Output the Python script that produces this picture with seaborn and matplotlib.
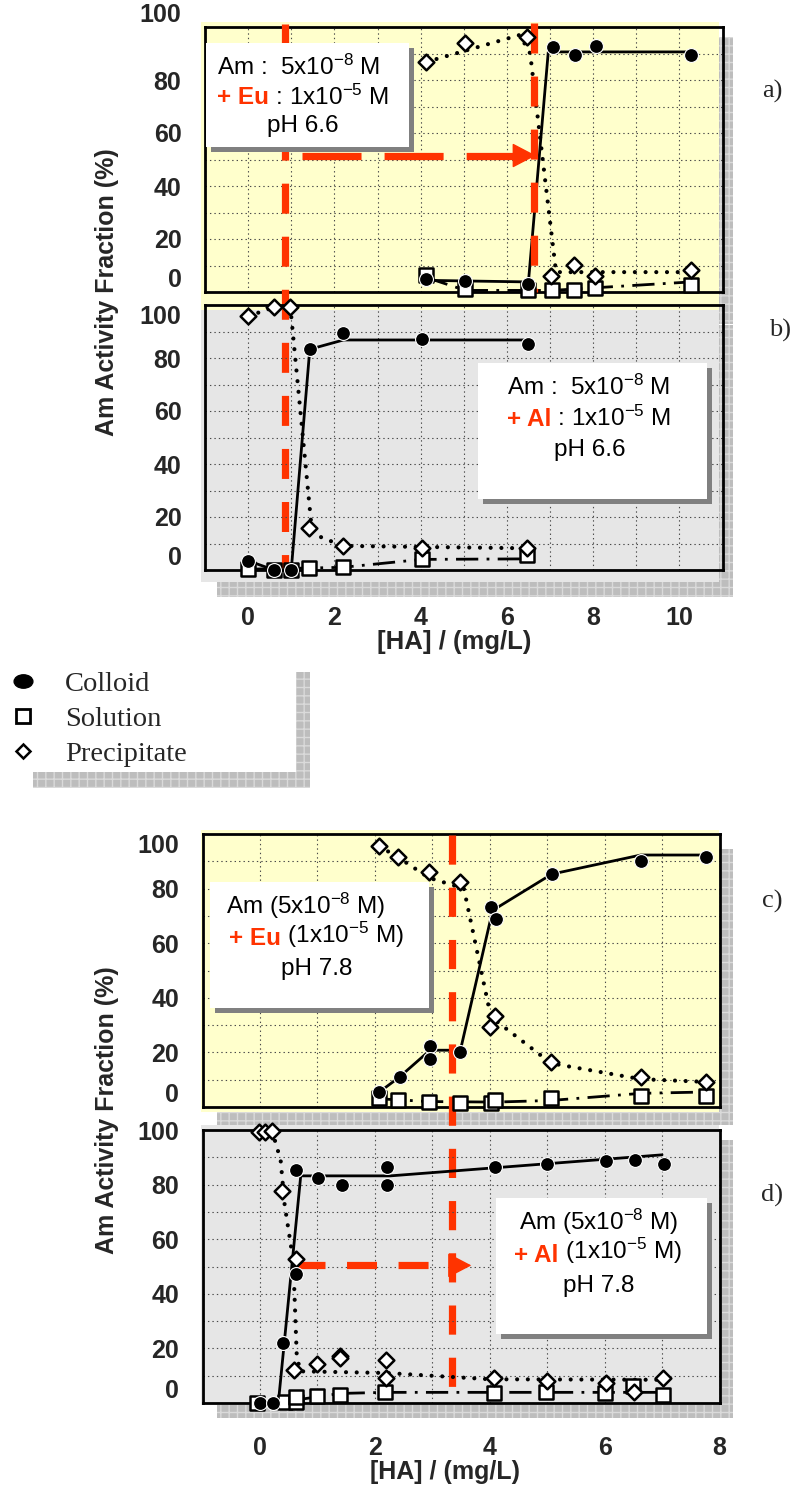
import matplotlib
matplotlib.use("Agg")
import matplotlib.pyplot as plt
from matplotlib.patches import Rectangle
from matplotlib.lines import Line2D
from matplotlib.path import Path
from matplotlib.markers import MarkerStyle
from matplotlib.text import Annotation
import seaborn as sns

# ---------------------------------------------------------------------------
# Am activity fraction (%) versus humic acid concentration [HA] (mg/L)
# points = measured values, *_LX / *_LY = trend curve drawn through them
# ---------------------------------------------------------------------------

# a) Am 5e-8 M + Eu 1e-5 M, pH 6.6
A_COL_X = [4.13, 5.04, 6.50, 7.06, 7.57, 8.06, 10.27]
A_COL_Y = [5.0, 4.2, 2.9, 92.5, 89.3, 92.7, 89.3]
A_COL_LX = [4.13, 6.50, 6.96, 10.27]
A_COL_LY = [4.4, 3.8, 90.6, 90.6]
A_SOL_X = [4.13, 5.04, 6.50, 7.04, 7.56, 8.04, 10.27]
A_SOL_Y = [6.5, 1.3, 0.9, 0.9, 0.9, 1.6, 2.5]
A_SOL_LX = [4.13, 5.04, 7.04, 10.27]
A_SOL_LY = [5.5, 0.6, 0.6, 3.8]
A_PRE_X = [4.13, 5.04, 6.46, 7.03, 7.56, 8.04, 10.27]
A_PRE_Y = [86.8, 94.1, 96.2, 5.9, 10.1, 5.9, 8.2]
A_PRE_LX = [4.13, 6.30, 6.54, 7.14, 10.27]
A_PRE_LY = [86.8, 97.0, 90.0, 7.5, 7.5]

# b) Am 5e-8 M + Al 1e-5 M, pH 6.6
B_COL_X = [0.0, 0.60, 1.00, 1.43, 2.21, 4.03, 6.48]
B_COL_Y = [3.5, 0.0, 0.0, 83.3, 89.3, 87.2, 85.3]
B_COL_LX = [0.0, 0.60, 1.00, 1.43, 2.21, 6.48]
B_COL_LY = [3.5, 0.0, 0.0, 83.3, 86.8, 86.8]
B_SOL_X = [0.0, 0.60, 1.00, 1.42, 2.19, 4.03, 6.46]
B_SOL_Y = [0.3, 0.0, 0.0, 0.6, 1.0, 4.0, 5.7]
B_SOL_LX = [0.0, 2.19, 4.03, 6.46]
B_SOL_LY = [0.3, 1.0, 4.0, 4.2]
B_PRE_X = [0.0, 0.60, 0.98, 1.42, 2.19, 4.03, 6.46]
B_PRE_Y = [95.8, 99.1, 99.1, 15.7, 9.1, 8.2, 8.2]
B_PRE_LX = [0.0, 0.60, 0.98, 1.46, 1.60, 2.19, 6.46]
B_PRE_LY = [95.8, 99.1, 99.1, 18.0, 13.0, 9.1, 8.2]

# c) Am 5e-8 M + Eu 1e-5 M, pH 7.8
C_COL_X = [2.08, 2.43, 2.96, 2.96, 3.49, 4.02, 4.11, 5.08, 6.63, 7.77]
C_COL_Y = [5.5, 11.0, 22.2, 17.7, 20.2, 73.3, 68.8, 85.3, 90.2, 91.4]
C_COL_LX = [2.08, 2.43, 2.96, 3.49, 4.05, 5.08, 6.63, 7.77]
C_COL_LY = [5.5, 11.0, 20.8, 20.8, 72.0, 85.3, 92.3, 92.3]
C_SOL_X = [2.08, 2.41, 2.94, 3.49, 4.02, 4.10, 5.07, 6.63, 7.76]
C_SOL_Y = [3.4, 2.7, 1.8, 1.5, 1.5, 2.7, 3.4, 3.9, 3.9]
C_SOL_LX = [2.08, 2.94, 4.10, 5.07, 6.63, 7.76]
C_SOL_LY = [3.0, 2.0, 1.8, 2.4, 5.0, 5.5]
C_PRE_X = [2.07, 2.41, 2.94, 3.49, 4.09, 4.01, 5.07, 6.63, 7.77]
C_PRE_Y = [95.6, 91.4, 85.9, 82.5, 33.3, 29.3, 16.5, 11.0, 9.2]
C_PRE_LX = [2.07, 2.41, 2.94, 3.55, 4.02, 5.07, 6.63, 7.77]
C_PRE_LY = [95.6, 91.4, 84.0, 80.0, 33.0, 16.0, 10.2, 9.2]

# d) Am 5e-8 M + Al 1e-5 M, pH 7.8
D_COL_X = [0.0, 0.22, 0.41, 0.63, 0.63, 1.01, 1.43, 2.21, 2.21, 4.10, 5.00, 6.03, 6.53, 7.04]
D_COL_Y = [0.0, 0.0, 22.0, 85.4, 47.3, 82.3, 79.9, 86.6, 79.9, 86.6, 87.6, 88.7, 89.0, 87.6]
D_COL_LX = [0.0, 0.32, 0.71, 2.27, 7.00]
D_COL_LY = [0.0, 0.0, 83.2, 83.2, 90.9]
D_SOL_X = [-0.05, 0.43, 0.63, 0.63, 0.99, 1.40, 2.18, 4.08, 4.98, 6.00, 6.50, 7.02]
D_SOL_Y = [0.0, 0.2, 0.2, 2.2, 2.7, 3.0, 3.9, 3.7, 3.9, 3.7, 6.1, 3.0]
D_SOL_LX = [0.0, 0.43, 1.40, 2.18, 7.02]
D_SOL_LY = [0.0, 0.5, 3.5, 3.9, 3.9]
D_PRE_X = [-0.01, 0.09, 0.21, 0.39, 0.63, 0.60, 0.99, 1.39, 1.39, 2.19, 2.19, 4.08, 4.99, 6.02, 6.52, 7.02]
D_PRE_Y = [99.4, 99.4, 99.8, 77.7, 52.7, 12.2, 14.4, 17.1, 16.5, 15.6, 9.1, 9.1, 7.9, 7.3, 3.9, 9.1]
D_PRE_LX = [0.21, 0.36, 0.43, 0.58, 0.64, 0.70, 2.20, 4.00, 7.02]
D_PRE_LY = [99.8, 89.0, 72.6, 52.0, 17.7, 11.6, 11.0, 8.7, 8.5]

# 50 % guide lines ([HA] where half of Am is colloidal)
AB_GUIDE_X = 0.86          # vertical through a) and b)
A_GUIDE_X2 = 6.63          # vertical in a)
A_ARROW_Y, A_ARROW_X0, A_ARROW_BASE, A_ARROW_TIP = 51.5, 1.25, 6.17, 6.67
CD_GUIDE_X = 3.35          # vertical through c) and d)
D_ARROW_Y, D_ARROW_X0, D_ARROW_BASE, D_ARROW_TIP = 50.4, 0.61, 3.30, 3.68

Y_TICKS = [0, 20, 40, 60, 80, 100]
AB_XTICKS = [0, 2, 4, 6, 8, 10]
CD_XTICKS = [0, 2, 4, 6, 8]
SERIES_NAMES = ["Colloid", "Solution", "Precipitate"]

# ---------------------------------------------------------------------------
sns.set_style("white")
plt.rcParams["font.family"] = ["Liberation Sans", "DejaVu Sans"]
plt.rcParams["mathtext.default"] = "regular"
plt.rcParams["lines.scale_dashes"] = False
plt.rcParams["hatch.linewidth"] = 1.0

W, H = 794, 1485
RED = "#FF3300"
YELLOW = "#FFFFCC"
GREY_BG = "#E6E6E6"
SHADOW_FACE = "#BDBDBD"
SHADOW_HATCH = "#DADADA"
BOX_SHADOW = "#808080"

fig = plt.figure(figsize=(W / 100, H / 100), dpi=100)
fig.patch.set_facecolor("white")


def frac_rect(x0, y0, x1, y1):
    return [x0 / W, 1 - y1 / H, (x1 - x0) / W, (y1 - y0) / H]


def add_box(x0, y0, x1, y1, z, **kw):
    l, b, w, h = frac_rect(x0, y0, x1, y1)
    fig.add_artist(Rectangle((l, b), w, h, transform=fig.transFigure, zorder=z, **kw))


def hatched(x0, y0, x1, y1, z):
    add_box(x0, y0, x1, y1, z, facecolor=SHADOW_FACE, edgecolor=SHADOW_HATCH,
            hatch="++", linewidth=0)


# panel backdrops with their drop shadows
hatched(215, 37, 733, 324, -10)
add_box(200.7, 22, 718.6, 310, -9, facecolor=YELLOW, linewidth=0)
hatched(216.8, 325, 733, 597, -8)
add_box(200.7, 310, 718.6, 582, -7, facecolor=GREY_BG, linewidth=0)
hatched(216.8, 849, 733, 1125, -6)
add_box(200.7, 830, 718.6, 1112, -5, facecolor=YELLOW, linewidth=0)
hatched(216.8, 1140, 733, 1418, -4)
add_box(200.7, 1125, 718.6, 1405, -3, facecolor=GREY_BG, linewidth=0)

ax_a = fig.add_axes(frac_rect(205, 27, 722.5, 292), zorder=1)
ax_b = fig.add_axes(frac_rect(205, 305, 722.5, 570), zorder=2)
ax_c = fig.add_axes(frac_rect(202.5, 834, 719.5, 1107), zorder=3)
ax_d = fig.add_axes(frac_rect(202.5, 1130, 719.5, 1403), zorder=4)

LINE_KW = {
    "Colloid": dict(linestyle="-", lw=2.0),
    "Solution": dict(linestyle=(0, (16, 6, 2, 6)), lw=2.0),
    "Precipitate": dict(linestyle=(0, (0.01, 7.7)), lw=3.0, dash_capstyle="round"),
}
MARK_KW = {
    "Colloid": dict(marker="o", s=100, color="black", edgecolor="white", linewidth=0.8, zorder=7),
    "Solution": dict(marker="s", s=100, color="white", edgecolor="black", linewidth=1.8, zorder=5),
    "Precipitate": dict(marker="D", s=64, color="white", edgecolor="black", linewidth=1.8, zorder=6),
}


def setup_axes(ax, xlim, xmajor, show_x, first_va, top_va, xpad):
    ax.set_facecolor("none")
    ax.set_xlim(*xlim)
    ax.set_ylim(0, 100)
    ax.set_xticks(xmajor, [str(v) for v in xmajor])
    ax.set_xticks(range(int(xlim[0]), int(xlim[1]) + 1), minor=True)
    ax.set_yticks(Y_TICKS, [str(v) for v in Y_TICKS])
    ax.set_yticks(range(0, 101, 10), minor=True)
    xl = ax.get_xticklabels()
    yl = ax.get_yticklabels()
    for lab in list(xl) + list(yl):
        lab.set_fontweight("bold")
    yl[0].set_verticalalignment(first_va)
    yl[-1].set_verticalalignment(top_va)
    ax.grid(True, which="both", color="#4a4a4a", linewidth=0.8, linestyle=(0, (1.0, 2.2)))
    ax.tick_params(which="both", length=0, labelsize=18)
    ax.tick_params(axis="y", pad=17)
    ax.tick_params(axis="x", pad=xpad, labelbottom=show_x)
    for sp in ax.spines.values():
        sp.set_visible(True)
        sp.set_linewidth(2.0)
        sp.set_color("black")


def draw_series(ax, curves):
    for name, lx, ly, px, py in curves:
        sns.lineplot(x=lx, y=ly, ax=ax, color="black", sort=False, estimator=None,
                     zorder=3, **LINE_KW[name])
        sns.scatterplot(x=px, y=py, ax=ax, legend=False, clip_on=False, **MARK_KW[name])
    ax.set_xlabel("")
    ax.set_ylabel("")


draw_series(ax_a, [("Solution", A_SOL_LX, A_SOL_LY, A_SOL_X, A_SOL_Y),
                   ("Precipitate", A_PRE_LX, A_PRE_LY, A_PRE_X, A_PRE_Y),
                   ("Colloid", A_COL_LX, A_COL_LY, A_COL_X, A_COL_Y)])
draw_series(ax_b, [("Solution", B_SOL_LX, B_SOL_LY, B_SOL_X, B_SOL_Y),
                   ("Precipitate", B_PRE_LX, B_PRE_LY, B_PRE_X, B_PRE_Y),
                   ("Colloid", B_COL_LX, B_COL_LY, B_COL_X, B_COL_Y)])
draw_series(ax_c, [("Solution", C_SOL_LX, C_SOL_LY, C_SOL_X, C_SOL_Y),
                   ("Precipitate", C_PRE_LX, C_PRE_LY, C_PRE_X, C_PRE_Y),
                   ("Colloid", C_COL_LX, C_COL_LY, C_COL_X, C_COL_Y)])
draw_series(ax_d, [("Solution", D_SOL_LX, D_SOL_LY, D_SOL_X, D_SOL_Y),
                   ("Precipitate", D_PRE_LX, D_PRE_LY, D_PRE_X, D_PRE_Y),
                   ("Colloid", D_COL_LX, D_COL_LY, D_COL_X, D_COL_Y)])

setup_axes(ax_a, (-1, 11), AB_XTICKS, False, "bottom", "bottom", 26)
setup_axes(ax_b, (-1, 11), AB_XTICKS, True, "bottom", "top", 26)
setup_axes(ax_c, (-1, 8), CD_XTICKS, False, "bottom", "top", 26)
setup_axes(ax_d, (-1, 8), CD_XTICKS, True, "bottom", "center_baseline", 24)


# red 50 % guides -----------------------------------------------------------
def y_on(ax_from, ax_to, x, y):
    disp = ax_to.transData.transform((x, y))
    return ax_from.transData.inverted().transform(disp)[1]


def guide(ax, xs, ys, on, off):
    ax.plot(xs, ys, color=RED, lw=5.2, linestyle=(0, (on, off)), dash_capstyle="butt",
            solid_capstyle="butt", clip_on=False, zorder=4)


def arrow_head(ax, x_base, x_tip, y):
    ax.annotate("", xy=(x_tip, y), xytext=(x_base, y), annotation_clip=False, zorder=4,
                arrowprops=dict(arrowstyle="-|>,head_length=15.1,head_width=7.9",
                                mutation_scale=1, color=RED, lw=1, shrinkA=0, shrinkB=0))


guide(ax_a, [AB_GUIDE_X, AB_GUIDE_X], [101.0, y_on(ax_a, ax_b, AB_GUIDE_X, 0.6)], 21.6, 16.6)
guide(ax_a, [A_GUIDE_X2, A_GUIDE_X2], [101.5, 0.0], 21.6, 16.6)
guide(ax_a, [A_ARROW_X0, A_ARROW_BASE], [A_ARROW_Y, A_ARROW_Y], 42.5, 16.6)
arrow_head(ax_a, A_ARROW_BASE, A_ARROW_TIP, A_ARROW_Y)
guide(ax_c, [CD_GUIDE_X, CD_GUIDE_X], [99.6, y_on(ax_c, ax_d, CD_GUIDE_X, 4.3)], 21.0, 16.6)
guide(ax_d, [D_ARROW_X0, D_ARROW_BASE], [D_ARROW_Y, D_ARROW_Y], 21.6, 15.5)
arrow_head(ax_d, D_ARROW_BASE, D_ARROW_TIP, D_ARROW_Y)


# condition boxes ---------------------------------------------------------------
TXT = dict(fontsize=17.5, family=["Liberation Sans", "DejaVu Sans"])


def note(box, lines):
    x0, y0, x1, y1 = box
    add_box(x0 + 5.4, y0 + 5, x1 + 5.4, y1 + 5, 20, facecolor=BOX_SHADOW, linewidth=0)
    add_box(x0, y0, x1, y1, 21, facecolor="white", linewidth=0)
    for x, y, pieces in lines:
        prev = None
        for s, color, weight in pieces:
            if prev is None:
                t = fig.text(x / W, 1 - y / H, s, color=color, fontweight=weight,
                             ha="left", va="baseline", zorder=22, **TXT)
            else:
                t = Annotation(s, xy=(1, 0), xycoords=prev, ha="left", va="bottom",
                               color=color, fontweight=weight, zorder=22, **TXT)
                fig.add_artist(t)
            prev = t


note((206, 43, 408.6, 147), [
    (217, 74.5, [("Am :  5x10$^{-8}$ M", "black", "normal")]),
    (217, 104.5, [("+ Eu", RED, "bold"), (" : 1x10$^{-5}$ M", "black", "normal")]),
    (267, 132, [("pH 6.6", "black", "normal")]),
])
note((477.5, 362.7, 707, 499), [
    (507, 394.5, [("Am :  5x10$^{-8}$ M", "black", "normal")]),
    (507, 425.5, [("+ Al", RED, "bold"), (" : 1x10$^{-5}$ M", "black", "normal")]),
    (553.6, 456, [("pH 6.6", "black", "normal")]),
])
note((209.6, 881.7, 428.6, 1008), [
    (225.7, 913.5, [("Am (5x10$^{-8}$ M)", "black", "normal")]),
    (228.6, 945.5, [("+ Eu", RED, "bold"), (" (1x10$^{-5}$ M)", "black", "normal")]),
    (281, 975.5, [("pH 7.8", "black", "normal")]),
])
note((496, 1198, 707, 1334), [
    (518.6, 1229.5, [("Am (5x10$^{-8}$ M)", "black", "normal")]),
    (514.3, 1261.5, [("+ Al", RED, "bold"), (" (1x10$^{-5}$ M)", "black", "normal")]),
    (563, 1292, [("pH 7.8", "black", "normal")]),
])

# axis titles and panel letters ---------------------------------------------------
YLAB = dict(rotation=90, fontweight="bold", fontsize=18, ha="center", va="center")
fig.text(107 / W, 1 - 292 / H, "Am Activity Fraction (%)", **YLAB)
fig.text(107 / W, 1 - 1110 / H, "Am Activity Fraction (%)", **YLAB)
fig.text(454 / W, 1 - 642 / H, "[HA] / (mg/L)", fontweight="bold", fontsize=18.5,
         ha="center", va="center")
fig.text(445 / W, 1 - 1472 / H, "[HA] / (mg/L)", fontweight="bold", fontsize=18,
         ha="center", va="center")

SERIF = dict(family=["Liberation Serif", "DejaVu Serif"], fontsize=19, ha="center", va="center")
for letter, (lx, ly) in zip(["a)", "b)", "c)", "d)"],
                            [(772, 91), (780, 330), (772, 901), (772, 1195)]):
    fig.text(lx / W, 1 - ly / H, letter, **SERIF)

# legend with hatched drop shadow ------------------------------------------------------
hatched(33, 672, 310, 788, 8)
add_box(18, 657, 296, 772, 9, facecolor="white", linewidth=0)
circle = Path.unit_circle()
ellipse = MarkerStyle(Path(circle.vertices * [1.4, 1.0], circle.codes))
handles = [
    Line2D([], [], ls="none", marker=ellipse, ms=13.5, mfc="black", mec="black"),
    Line2D([], [], ls="none", marker="s", ms=10.5, mfc="white", mec="black", mew=2.0),
    Line2D([], [], ls="none", marker="D", ms=7.0, mfc="white", mec="black", mew=1.8),
]
leg = fig.legend(handles, SERIES_NAMES, loc="upper left",
                 bbox_to_anchor=(8.8 / W, 1 - 671 / H), frameon=False,
                 prop={"family": "Liberation Serif", "size": 20.5},
                 handlelength=1.0, handletextpad=0.97, labelspacing=0.32,
                 borderpad=0, borderaxespad=0)
leg.set_zorder(10)

fig.savefig("out.png", dpi=100)
